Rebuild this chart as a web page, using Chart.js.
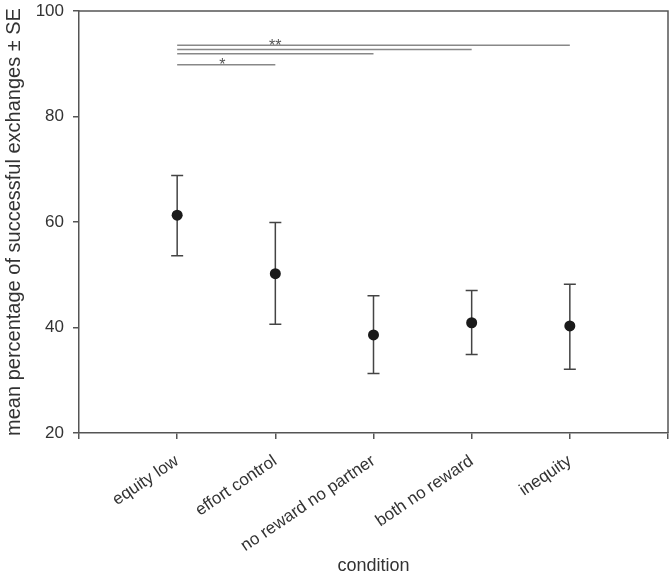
<!DOCTYPE html>
<html>
<head>
<meta charset="utf-8">
<script src="https://cdn.jsdelivr.net/npm/chart.js@4"></script>
<style>
  html, body { margin: 0; padding: 0; background: #fff; }
  #wrap { width: 672px; height: 578px; }
</style>
</head>
<body>
<div id="wrap"><canvas id="c" width="672" height="578"></canvas></div>
<script>
// ---- data ----
const categories = ["equity low", "effort control", "no reward no partner", "both no reward", "inequity"];
const means      = [61.3, 50.2, 38.6, 40.9, 40.3];
const upperSE    = [68.8, 59.9, 46.0, 47.0, 48.2];
const lowerSE    = [53.6, 40.6, 31.3, 34.9, 32.1];
const yTicks     = [20, 40, 60, 80, 100];
// significance brackets: from category index, to category index, level, label
const sigFrom    = [1, 1, 1, 1];
const sigTo      = [5, 4, 3, 2];
const sigLevel   = [93.5, 92.7, 91.9, 89.8];
const sigLabel   = ["**", "", "", "*"];
const sigLabelX  = [2.0, null, null, 1.46];

const axisColor = '#555';
const textColor = '#333';
const FONT = 'Liberation Sans, Arial, Helvetica, sans-serif';

const pointData = means.map((m, i) => ({x: i + 1, y: m}));

const sigDatasets = sigFrom.map((f, k) => ({
  type: 'line',
  data: [{x: f, y: sigLevel[k]}, {x: sigTo[k], y: sigLevel[k]}],
  borderColor: '#888',
  borderWidth: 1.5,
  pointRadius: 0,
  fill: false,
  tension: 0
}));

const extras = {
  id: 'extras',
  afterDatasetsDraw(chart) {
    const ctx = chart.ctx;
    const xs = chart.scales.x, ys = chart.scales.y;
    const a = chart.chartArea;
    ctx.save();
    // top & right frame
    ctx.strokeStyle = axisColor;
    ctx.lineWidth = 1.5;
    ctx.beginPath();
    ctx.moveTo(a.left, a.top);
    ctx.lineTo(a.right, a.top);
    ctx.lineTo(a.right, a.bottom);
    ctx.stroke();
    // error bars
    ctx.strokeStyle = '#444';
    ctx.lineWidth = 1.5;
    for (let i = 0; i < means.length; i++) {
      const px = xs.getPixelForValue(i + 1);
      const pu = ys.getPixelForValue(upperSE[i]);
      const pl = ys.getPixelForValue(lowerSE[i]);
      ctx.beginPath();
      ctx.moveTo(px, pu); ctx.lineTo(px, pl);
      ctx.moveTo(px - 6, pu); ctx.lineTo(px + 6, pu);
      ctx.moveTo(px - 6, pl); ctx.lineTo(px + 6, pl);
      ctx.stroke();
    }
    // points on top
    ctx.fillStyle = '#1a1a1a';
    for (let i = 0; i < means.length; i++) {
      const px = xs.getPixelForValue(i + 1);
      const py = ys.getPixelForValue(means[i]);
      ctx.beginPath();
      ctx.arc(px, py, 5.5, 0, Math.PI * 2);
      ctx.fill();
    }
    // significance labels
    ctx.fillStyle = '#555';
    ctx.font = '16px ' + FONT;
    ctx.textAlign = 'center';
    ctx.textBaseline = 'middle';
    for (let k = 0; k < sigLabel.length; k++) {
      if (!sigLabel[k]) continue;
      const px = xs.getPixelForValue(sigLabelX[k]);
      const py = ys.getPixelForValue(sigLevel[k]);
      ctx.fillText(sigLabel[k], px, py + 1);
    }
    ctx.restore();
  }
};

new Chart(document.getElementById('c'), {
  type: 'scatter',
  data: {
    datasets: [
      ...sigDatasets,
      {
        type: 'scatter',
        data: pointData,
        pointRadius: 0,
        pointHoverRadius: 0,
        backgroundColor: '#1a1a1a'
      }
    ]
  },
  options: {
    responsive: false,
    animation: false,
    devicePixelRatio: 1,
    layout: { padding: { top: 11, right: 4, left: 0, bottom: 0 } },
    plugins: { legend: { display: false }, tooltip: { enabled: false } },
    scales: {
      x: {
        type: 'linear',
        min: 0, max: 6,
        afterBuildTicks(scale) {
          scale.ticks = [0, 1, 2, 3, 4, 5, 6].map(v => ({value: v}));
        },
        afterFit(scale) { scale.height = 145; scale.paddingLeft = 0; scale.paddingRight = 0; },
        ticks: {
          autoSkip: false,
          minRotation: 34, maxRotation: 34,
          color: textColor,
          font: { family: FONT, size: 17 },
          padding: 12,
          callback: (v) => (v >= 1 && v <= categories.length) ? categories[v - 1] : ''
        },
        grid: { display: true, drawOnChartArea: false, drawTicks: true, tickLength: 6, color: axisColor, lineWidth: 1.5 },
        border: { display: true, color: axisColor, width: 1.5 },
        title: {
          display: true, text: 'condition', color: textColor,
          font: { family: FONT, size: 18 },
          padding: { top: 0, bottom: 1 }
        }
      },
      y: {
        type: 'linear',
        min: 20, max: 100,
        afterBuildTicks(scale) { scale.ticks = yTicks.map(v => ({value: v})); },
        afterFit(scale) { scale.width = 79; scale.paddingTop = 0; scale.paddingBottom = 0; },
        ticks: {
          color: textColor,
          font: { family: FONT, size: 17 },
          padding: 9
        },
        grid: { display: true, drawOnChartArea: false, drawTicks: true, tickLength: 6, color: axisColor, lineWidth: 1.5 },
        border: { display: true, color: axisColor, width: 1.5 },
        title: {
          display: true, text: 'mean percentage of successful exchanges ± SE', color: textColor,
          font: { family: FONT, size: 20 },
          padding: { top: 2, bottom: 0 }
        }
      }
    }
  },
  plugins: [extras]
});
</script>
</body>
</html>
